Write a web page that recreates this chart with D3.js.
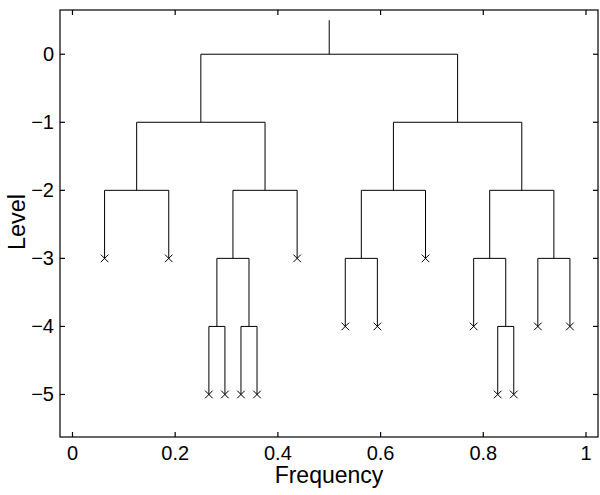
<!DOCTYPE html>
<html><head><meta charset="utf-8">
<script src="https://cdn.jsdelivr.net/npm/d3@7"></script>
<style>body{margin:0;background:#fff}svg{display:block}text{font-family:"Liberation Sans",Arial,sans-serif;fill:#000}</style>
</head><body><svg id="c" width="600" height="495"></svg>
<script>
// Wavelet packet tree nodes
const nodeIds    = ["r","a","b","aa","ab","ba","bb","aaa","aab","aba","abb","baa","bab","bba","bbb","abaa","abab","baaa","baab","bbaa","bbab","bbba","bbbb","abaaa","abaab","ababa","ababb","bbaba","bbabb"];
const nodeParent = ["","r","r","a","a","b","b","aa","aa","ab","ab","ba","ba","bb","bb","aba","aba","baa","baa","bba","bba","bbb","bbb","abaa","abaa","abab","abab","bbab","bbab"];
const nodeFreq   = [0.5,0.25,0.75,0.125,0.375,0.625,0.875,0.0625,0.1875,0.3125,0.4375,0.5625,0.6875,0.8125,0.9375,0.28125,0.34375,0.53125,0.59375,0.78125,0.84375,0.90625,0.96875,0.265625,0.296875,0.328125,0.359375,0.828125,0.859375];
const nodeLevel  = [0,-1,-1,-2,-2,-2,-2,-3,-3,-3,-3,-3,-3,-3,-3,-4,-4,-4,-4,-4,-4,-4,-4,-5,-5,-5,-5,-5,-5];
const xTicks = [0,0.2,0.4,0.6,0.8,1];
const xTickLabels = ["0","0.2","0.4","0.6","0.8","1"];
const yTicks = [0,-1,-2,-3,-4,-5];
const yTickLabels = ["0","\u22121","\u22122","\u22123","\u22124","\u22125"];
const rootStemTop = 0.5;

const L=60,R=598,T=10,B=437;
const x=d3.scaleLinear().domain([-0.0243,1.0234]).range([L,R]);
const y=d3.scaleLinear().domain([-5.625,0.65]).range([B,T]);
const svg=d3.select("#c");

const rows=nodeIds.map((id,i)=>({id,parent:nodeParent[i]||null,f:nodeFreq[i],l:nodeLevel[i]}));
const root=d3.stratify().id(d=>d.id).parentId(d=>d.parent)(rows);
const g=svg.append("g").attr("stroke","#000").attr("stroke-width",1).attr("fill","none");
// root stem
g.append("line").attr("x1",x(root.data.f)).attr("x2",x(root.data.f)).attr("y1",y(root.data.l)).attr("y2",y(rootStemTop));
root.each(n=>{
  if(n.children){
    const fs=n.children.map(c=>c.data.f);
    g.append("line").attr("x1",x(d3.min(fs))).attr("x2",x(d3.max(fs))).attr("y1",y(n.data.l)).attr("y2",y(n.data.l));
    n.children.forEach(c=>{
      g.append("line").attr("x1",x(c.data.f)).attr("x2",x(c.data.f)).attr("y1",y(n.data.l)).attr("y2",y(c.data.l));
    });
  } else {
    const cx=x(n.data.f), cy=y(n.data.l), s=3.8;
    g.append("path").attr("d",`M${cx-s},${cy-s}L${cx+s},${cy+s}M${cx-s},${cy+s}L${cx+s},${cy-s}`);
  }
});

// axes box
const ax=svg.append("g").attr("stroke","#000").attr("stroke-width",1.2).attr("fill","none");
ax.append("rect").attr("x",L).attr("y",T).attr("width",R-L).attr("height",B-T);
xTicks.forEach((t,i)=>{
  const px=x(t);
  ax.append("line").attr("x1",px).attr("x2",px).attr("y1",B).attr("y2",B-5);
  ax.append("line").attr("x1",px).attr("x2",px).attr("y1",T).attr("y2",T+5);
  svg.append("text").attr("x",px).attr("y",460).attr("text-anchor","middle").attr("font-size",20).text(xTickLabels[i]);
});
yTicks.forEach((t,i)=>{
  const py=y(t);
  ax.append("line").attr("x1",L).attr("x2",L+5).attr("y1",py).attr("y2",py);
  ax.append("line").attr("x1",R).attr("x2",R-5).attr("y1",py).attr("y2",py);
  svg.append("text").attr("x",L-6).attr("y",py+7).attr("text-anchor","end").attr("font-size",20).text(yTickLabels[i]);
});
svg.append("text").attr("x",329).attr("y",483).attr("text-anchor","middle").attr("font-size",23).text("Frequency");
svg.append("text").attr("transform","translate(25,222) rotate(-90)").attr("text-anchor","middle").attr("font-size",23.5).text("Level");
</script></body></html>
